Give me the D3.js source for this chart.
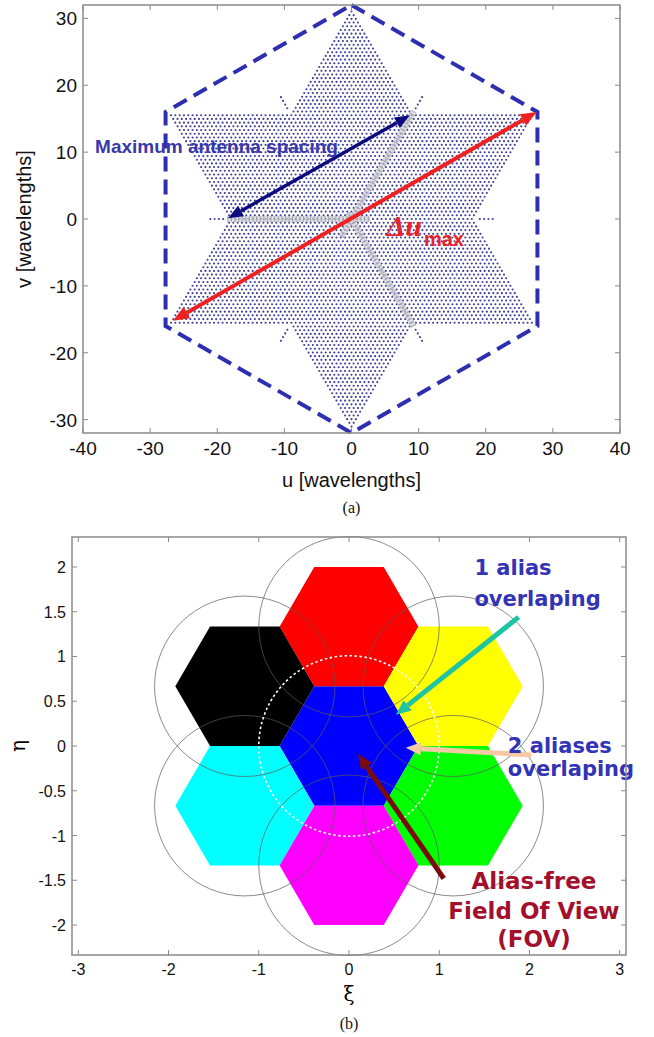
<!DOCTYPE html>
<html lang="en">
<head>
<meta charset="UTF-8">
<title>uv coverage and alias-free field of view</title>
<script src="https://d3js.org/d3.v7.min.js"></script>
<style>
html, body { margin: 0; padding: 0; background: white; }
body { font-family: 'Liberation Sans', Arial, sans-serif; }
.tick-a { font-size: 19px; fill: #111; }
.tick-b { font-size: 16px; fill: #111; }
.axis-title { font-size: 20px; fill: #111; }
.caption { font-family: 'Liberation Serif', 'Times New Roman', serif; font-size: 16px; fill: #111; }
.note-b { font-family: 'DejaVu Sans', sans-serif; font-weight: bold; }
</style>
</head>
<body>
<div id="chart"></div>
<script>

// --------------------------------------
// Data : panel (a) uv coverage
// --------------------------------------

const uTicks = [-40, -30, -20, -10, 0, 10, 20, 30, 40];
const vTicks = [-30, -20, -10, 0, 10, 20, 30];

const starTip = 32;        // tip radius of the hexagram [wavelengths]
const latticeStep = 0.64;  // spacing of the uv samples [wavelengths]
const spurLength = 2.6;    // little dotted spurs beyond the inner corners

// dashed hexagon through the star tips (u, v)
const hexOutline = [[0, 32], [27.7, 16], [27.7, -16], [0, -32], [-27.7, -16], [-27.7, 16]];

// grey Y-arms (u, v)
const arms = [
  [[-1.5, -2.6], [9.3, 16.1]],
  [[-18.5, 0], [2.8, 0]],
  [[-0.5, 0.9], [9.3, -16.1]]
];

const spacingArrow = [[-18.4, 0.1], [8.7, 15.5]];
const maxArrow = [[-26.6, -15.2], [27.6, 16.0]];

const spacingLabel = { text: "Maximum antenna spacing", u: -38.2, v: 9.8 };
const deltaLabel = { u: 5.2, v: -2.5 };

// --------------------------------------
// Data : panel (b) aliases
// --------------------------------------

const xiTicks = [-3, -2, -1, 0, 1, 2, 3];
const etaTicks = [-2, -1.5, -1, -0.5, 0, 0.5, 1, 1.5, 2];

const hexRadius = 0.77;
const aliasRadius = 1;
const fovRadius = 1;

const hexCenters = [
  { xi: 0, eta: 0, color: "#0000ff", alias: false },
  { xi: 0, eta: 1.333, color: "#ff0000", alias: true },
  { xi: 1.155, eta: 0.667, color: "#ffff00", alias: true },
  { xi: 1.155, eta: -0.667, color: "#00ff00", alias: true },
  { xi: 0, eta: -1.333, color: "#ff00ff", alias: true },
  { xi: -1.155, eta: -0.667, color: "#00ffff", alias: true },
  { xi: -1.155, eta: 0.667, color: "#000000", alias: true }
];

const arrowsB = [
  { from: [1.88, 1.44], to: [0.52, 0.35], color: "#1fc4a2" },
  { from: [2.02, -0.10], to: [0.63, -0.02], color: "#f6c9a4" },
  { from: [1.05, -1.48], to: [0.10, -0.09], color: "#7b0c0c" }
];

const notesB = [
  { lines: ["1 alias", "overlaping"], xi: 1.39, eta: [1.91, 1.56], anchor: "start", color: "#3333b5", size: 21 },
  { lines: ["2 aliases", "overlaping"], xi: 1.76, eta: [-0.08, -0.34], anchor: "start", color: "#3333b5", size: 21 },
  { lines: ["Alias-free", "Field Of View", "(FOV)"], xi: 2.05, eta: [-1.6, -1.93, -2.25], anchor: "middle", color: "#a3102c", size: 23 }
];

// --------------------------------------
// SVG
// --------------------------------------

const W = 654, H = 1037;
const svg = d3.select("#chart").append("svg")
  .attr("width", W).attr("height", H);

function arrowHead(g, x1, y1, x2, y2, len, wid, color) {
  const a = Math.atan2(y2 - y1, x2 - x1);
  const bx = x2 - len * Math.cos(a), by = y2 - len * Math.sin(a);
  const px = -Math.sin(a) * wid / 2, py = Math.cos(a) * wid / 2;
  g.append("path")
    .attr("d", `M${x2},${y2}L${bx + px},${by + py}L${bx - px},${by - py}Z`)
    .attr("fill", color);
  return [bx, by];
}

function frame(g, x, y, xt, yt, len) {
  const [x0, x1] = x.range(), [y0, y1] = y.range();
  g.append("rect")
    .attr("x", x0).attr("y", y1)
    .attr("width", x1 - x0).attr("height", y0 - y1)
    .attr("fill", "none").attr("stroke", "#8a8a8a").attr("stroke-width", 1.5);
  xt.forEach(t => {
    g.append("line").attr("x1", x(t)).attr("x2", x(t)).attr("y1", y0).attr("y2", y0 - len).attr("stroke", "#8a8a8a");
    g.append("line").attr("x1", x(t)).attr("x2", x(t)).attr("y1", y1).attr("y2", y1 + len).attr("stroke", "#8a8a8a");
  });
  yt.forEach(t => {
    g.append("line").attr("y1", y(t)).attr("y2", y(t)).attr("x1", x0).attr("x2", x0 + len).attr("stroke", "#8a8a8a");
    g.append("line").attr("y1", y(t)).attr("y2", y(t)).attr("x1", x1).attr("x2", x1 - len).attr("stroke", "#8a8a8a");
  });
}

// --------------------------------------
// Panel (a)
// --------------------------------------

const xA = d3.scaleLinear().domain([-40, 40]).range([83, 620]);
const yA = d3.scaleLinear().domain([-32, 32]).range([433, 5]);
const gA = svg.append("g");

// uv samples inside the hexagram
const sq3 = Math.sqrt(3);
const inStar = (u, v) =>
  (v >= -starTip / 2 && v <= starTip - sq3 * Math.abs(u)) ||
  (v <= starTip / 2 && v >= -starTip + sq3 * Math.abs(u));

const samples = [];
const rowStep = latticeStep * sq3 / 2;
const nRows = Math.floor(starTip / rowStep);
for (let k = -nRows; k <= nRows; k++) {
  const v = k * rowStep;
  const off = (Math.abs(k) % 2) * latticeStep / 2;
  const n0 = Math.ceil(30 / latticeStep);
  for (let j = -n0; j <= n0; j++) {
    const u = j * latticeStep + off;
    if (inStar(u, v)) samples.push([u, v]);
  }
}
// spurs beyond the six inner corners
const inner = starTip / sq3;
[0, 60, 120, 180, 240, 300].forEach(deg => {
  const a = deg * Math.PI / 180;
  for (let r = inner + latticeStep; r <= inner + spurLength; r += latticeStep) {
    samples.push([r * Math.cos(a), r * Math.sin(a)]);
  }
});

gA.append("g").selectAll("circle")
  .data(samples)
  .join("circle")
  .attr("cx", d => xA(d[0]))
  .attr("cy", d => yA(d[1]))
  .attr("r", 1.05)
  .attr("fill", "#3c3c98");

// grey arms
arms.forEach(s => {
  const line = [xA(s[0][0]), yA(s[0][1]), xA(s[1][0]), yA(s[1][1])];
  gA.append("line")
    .attr("x1", line[0]).attr("y1", line[1]).attr("x2", line[2]).attr("y2", line[3])
    .attr("stroke", "#cfcfd6").attr("stroke-width", 6).attr("opacity", 0.7);
  gA.append("line")
    .attr("x1", line[0]).attr("y1", line[1]).attr("x2", line[2]).attr("y2", line[3])
    .attr("stroke", "#9a9aa2").attr("stroke-width", 6).attr("opacity", 0.8)
    .attr("stroke-dasharray", "1,2.6");
});

// dashed hexagon
gA.append("path")
  .attr("d", d3.line().x(d => xA(d[0])).y(d => yA(d[1]))(hexOutline) + "Z")
  .attr("fill", "none")
  .attr("stroke", "#2e2eb0")
  .attr("stroke-width", 4)
  .attr("stroke-dasharray", "15,8");

// double arrows
function doubleArrow(g, pts, x, y, color, width, len, wid) {
  const [x1, y1, x2, y2] = [x(pts[0][0]), y(pts[0][1]), x(pts[1][0]), y(pts[1][1])];
  const b2 = arrowHead(g, x1, y1, x2, y2, len, wid, color);
  const b1 = arrowHead(g, x2, y2, x1, y1, len, wid, color);
  g.append("line")
    .attr("x1", b1[0]).attr("y1", b1[1]).attr("x2", b2[0]).attr("y2", b2[1])
    .attr("stroke", color).attr("stroke-width", width);
}
doubleArrow(gA, spacingArrow, xA, yA, "#0b0b7e", 3.5, 15, 12);
doubleArrow(gA, maxArrow, xA, yA, "#ee2020", 4, 16, 13);

// labels inside plot
gA.append("text")
  .attr("x", xA(spacingLabel.u)).attr("y", yA(spacingLabel.v))
  .attr("fill", "#3838a8")
  .attr("font-weight", "bold")
  .attr("font-size", 19)
  .text(spacingLabel.text);

const dl = gA.append("text")
  .attr("x", xA(deltaLabel.u)).attr("y", yA(deltaLabel.v))
  .attr("fill", "#e8232a");
dl.append("tspan")
  .attr("font-family", "'Liberation Serif', serif")
  .attr("font-style", "italic").attr("font-weight", "bold")
  .attr("font-size", 30)
  .text("\u0394u");
dl.append("tspan")
  .attr("font-weight", "bold").attr("font-size", 20)
  .attr("dx", 2).attr("dy", 10)
  .text("max");

frame(gA, xA, yA, uTicks, vTicks, 5);

// tick labels
gA.selectAll(".tu").data(uTicks).join("text")
  .attr("class", "tick-a")
  .attr("x", d => xA(d)).attr("y", 455)
  .attr("text-anchor", "middle")
  .text(d => d);
gA.selectAll(".tv").data(vTicks).join("text")
  .attr("class", "tick-a")
  .attr("x", 77).attr("y", d => yA(d) + 7)
  .attr("text-anchor", "end")
  .text(d => d);

gA.append("text").attr("class", "axis-title")
  .attr("x", xA(0)).attr("y", 487).attr("text-anchor", "middle")
  .text("u [wavelengths]");
gA.append("text").attr("class", "axis-title")
  .attr("transform", `translate(31,${yA(0)}) rotate(-90)`)
  .attr("text-anchor", "middle")
  .text("v [wavelengths]");
gA.append("text").attr("class", "caption")
  .attr("x", xA(0)).attr("y", 513).attr("text-anchor", "middle")
  .text("(a)");

// --------------------------------------
// Panel (b)
// --------------------------------------

const xB = d3.scaleLinear().domain([-3.07, 3.07]).range([72, 626]);
const yB = d3.scaleLinear().domain([-2.335, 2.335]).range([955, 537]);
const gB = svg.append("g");
const pxPerUnit = xB(1) - xB(0);

const hexPath = c => d3.range(6).map(i => {
  const a = i * Math.PI / 3;
  return [xB(c.xi + hexRadius * Math.cos(a)), yB(c.eta + hexRadius * Math.sin(a))];
});

gB.selectAll(".hex").data(hexCenters).join("path")
  .attr("d", d => "M" + hexPath(d).join("L") + "Z")
  .attr("fill", d => d.color);

gB.selectAll(".alias").data(hexCenters.filter(d => d.alias)).join("circle")
  .attr("cx", d => xB(d.xi)).attr("cy", d => yB(d.eta))
  .attr("r", aliasRadius * pxPerUnit)
  .attr("fill", "none")
  .attr("stroke", "#5a5a5a").attr("stroke-opacity", 0.7).attr("stroke-width", 1);

gB.append("circle")
  .attr("cx", xB(0)).attr("cy", yB(0))
  .attr("r", fovRadius * pxPerUnit)
  .attr("fill", "none")
  .attr("stroke", "#ffffff").attr("stroke-width", 1.6)
  .attr("stroke-dasharray", "2.5,2.5");

arrowsB.forEach(a => {
  const [x1, y1, x2, y2] = [xB(a.from[0]), yB(a.from[1]), xB(a.to[0]), yB(a.to[1])];
  const b = arrowHead(gB, x1, y1, x2, y2, 15, 13, a.color);
  gB.append("line")
    .attr("x1", x1).attr("y1", y1).attr("x2", b[0]).attr("y2", b[1])
    .attr("stroke", a.color).attr("stroke-width", 5);
});

notesB.forEach(n => {
  n.lines.forEach((t, i) => {
    gB.append("text").attr("class", "note-b")
      .attr("x", xB(n.xi)).attr("y", yB(n.eta[i]))
      .attr("text-anchor", n.anchor)
      .attr("font-size", n.size)
      .attr("fill", n.color)
      .text(t);
  });
});

frame(gB, xB, yB, xiTicks, etaTicks, 5);

gB.selectAll(".tx").data(xiTicks).join("text")
  .attr("class", "tick-b")
  .attr("x", d => xB(d)).attr("y", 975)
  .attr("text-anchor", "middle")
  .text(d => d);
gB.selectAll(".ty").data(etaTicks).join("text")
  .attr("class", "tick-b")
  .attr("x", 66).attr("y", d => yB(d) + 6)
  .attr("text-anchor", "end")
  .text(d => d);

gB.append("text")
  .attr("x", xB(0)).attr("y", 1001).attr("text-anchor", "middle")
  .attr("font-family", "'DejaVu Serif', serif").attr("font-size", 20)
  .text("\u03be");
gB.append("text")
  .attr("transform", `translate(25,${yB(0)}) rotate(-90)`)
  .attr("text-anchor", "middle")
  .attr("font-family", "'DejaVu Serif', serif").attr("font-size", 20)
  .text("\u03b7");
gB.append("text").attr("class", "caption")
  .attr("x", xB(0)).attr("y", 1029).attr("text-anchor", "middle")
  .text("(b)");

</script>
</body>
</html>
